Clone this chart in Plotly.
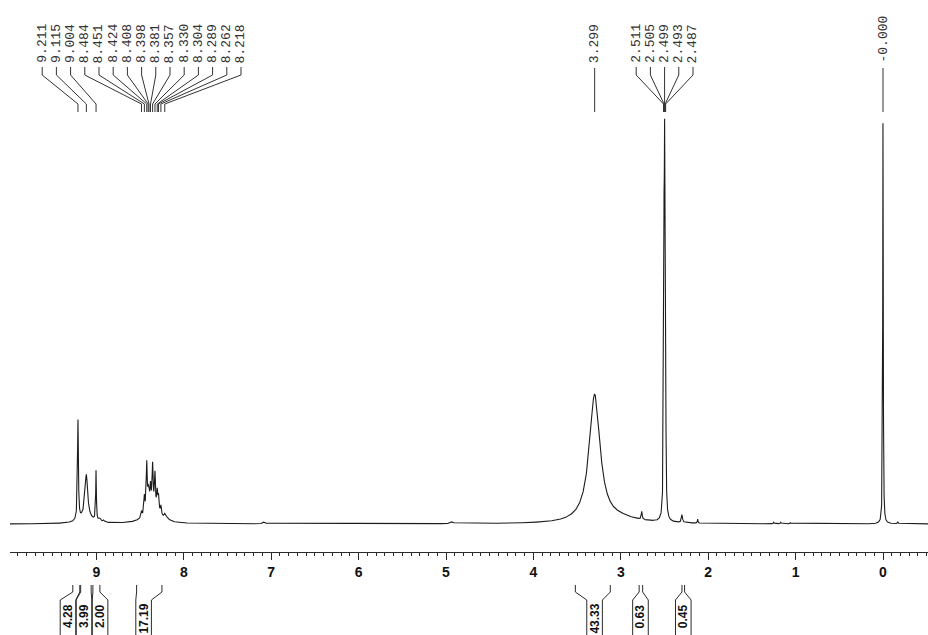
import numpy as np
import plotly.graph_objects as go

# ---------------- data ----------------
# resolved peaks: chemical shift (ppm), height above baseline (arb. units), FWHM (ppm)
peak_ppm = [9.211, 9.115, 9.004, 9.120, 8.960, 8.915,
            8.484, 8.451, 8.424, 8.408, 8.398, 8.381, 8.357, 8.330, 8.304, 8.289, 8.262, 8.218, 8.360, 8.200,
            7.080, 4.930,
            3.299, 3.000,
            2.760, 2.511, 2.505, 2.499, 2.493, 2.487, 2.300, 2.120,
            1.250, 1.170, 1.060, 0.000, -0.170]
peak_height = [100, 42, 50, 7, 3, 2,
               6, 18, 48, 14, 12, 20, 40, 33, 18, 15, 9, 3, 17, 3,
               2, 2,
               128, 4,
               8, 92, 198, 264, 198, 92, 8, 4,
               1.5, 1.5, 1, 404, 2]
peak_fwhm = [0.012, 0.035, 0.009, 0.16, 0.03, 0.02,
             0.014, 0.014, 0.013, 0.012, 0.012, 0.014, 0.013, 0.013, 0.014, 0.014, 0.014, 0.016, 0.17, 0.06,
             0.03, 0.04,
             0.15, 0.5,
             0.012, 0.008, 0.008, 0.008, 0.008, 0.008, 0.015, 0.008,
             0.01, 0.01, 0.01, 0.007, 0.01]

# peak-pick labels (top), one list per group
label_groups = [
    [9.211, 9.115, 9.004, 8.484, 8.451, 8.424, 8.408, 8.398, 8.381, 8.357, 8.330, 8.304, 8.289, 8.262, 8.218],
    [3.299],
    [2.511, 2.505, 2.499, 2.493, 2.487],
    [0.000],
]

# integrals (bottom)
integral_values = [4.28, 3.99, 2.00, 17.19, 43.33, 0.63, 0.45]
integral_from = [9.27, 9.18, 9.04, 8.54, 3.52, 2.79, 2.30]
integral_to = [9.19, 9.06, 8.96, 8.25, 3.12, 2.75, 2.27]

tick_values = [0, 1, 2, 3, 4, 5, 6, 7, 8, 9]

# ---------------- layout constants (positions / styles) ----------------
W, H = 928, 635
AXIS_PX = 552          # pixel row of the ppm axis line
PX_PER_PPM = 87.4
X0_PX = 883            # pixel column of 0 ppm
XR = [(X0_PX - 10) / PX_PER_PPM, (X0_PX - W) / PX_PER_PPM]
label_centers = [8.483, 3.299, 2.499, 0.0]     # centre of each spread label group
label_step = 14.2 / PX_PER_PPM                  # label spacing in ppm
integral_box_centers = [9.325, 9.142, 8.958, 8.46, 3.30, 2.775, 2.285]
integral_box_half = 7.8 / PX_PER_PPM
INK = "#2a2a2a"


def yp(px):
    """pixel row -> paper y of the plot area (top 0, bottom AXIS_PX)"""
    return (AXIS_PX - px) / AXIS_PX


# spectrum built from the peak list (Lorentzian line shapes)
x = np.arange(XR[1], XR[0], 0.0008)
y = np.zeros_like(x)
for c, h, w in zip(peak_ppm, peak_height, peak_fwhm):
    g = w / 2
    y += h * g * g / ((x - c) ** 2 + g * g)

fig = go.Figure()
fig.add_trace(go.Scatter(x=x, y=y, mode="lines",
                         line=dict(color="#1c1c1c", width=1.1),
                         hoverinfo="skip", showlegend=False))

shapes = []
annotations = []

# peak labels with connector lines
for grp, cen in zip(label_groups, label_centers):
    n = len(grp)
    for i, v in enumerate(grp):
        lx = cen + (n - 1) / 2 * label_step - i * label_step if n > 1 else cen
        txt = "-0.000" if v == 0 else f"{v:.3f}"
        annotations.append(dict(x=lx, y=yp(65), xref="x", yref="paper", text=txt,
                                textangle=-90, showarrow=False, xanchor="center", yanchor="bottom",
                                font=dict(family="Liberation Mono", size=13, color="#333")))
        if n > 1:
            path = (f"M {lx},{yp(67)} L {lx},{yp(75)} L {v},{yp(104)} L {v},{yp(112)}")
        else:
            path = f"M {lx},{yp(68)} L {lx},{yp(112)}"
        shapes.append(dict(type="path", path=path, xref="x", yref="paper",
                           line=dict(color="#333", width=1)))

# integral brackets and values
for val, a, b, bc in zip(integral_values, integral_from, integral_to, integral_box_centers):
    bl = bc + integral_box_half
    br = bc - integral_box_half
    path = (f"M {a},{yp(585)} L {a},{yp(592)} L {bl},{yp(600)} L {bl},{yp(640)} "
            f"M {b},{yp(585)} L {b},{yp(592)} L {br},{yp(600)} L {br},{yp(640)}")
    shapes.append(dict(type="path", path=path, xref="x", yref="paper",
                       line=dict(color=INK, width=1)))
    annotations.append(dict(x=bc, y=yp(602), xref="x", yref="paper", text=f"{val:.2f}",
                            textangle=-90, showarrow=False, xanchor="center", yanchor="top",
                            font=dict(family="Liberation Sans", size=12, color="#111", weight="bold")))

fig.update_layout(
    width=W, height=H,
    margin=dict(l=10, r=0, t=0, b=H - AXIS_PX),
    paper_bgcolor="white", plot_bgcolor="white",
    shapes=shapes, annotations=annotations,
    xaxis=dict(range=XR, showgrid=False, zeroline=False,
               showline=True, linecolor=INK, linewidth=1,
               ticks="outside", ticklen=7, tickwidth=1, tickcolor=INK,
               tickvals=tick_values, ticktext=[str(t) for t in tick_values],
               minor=dict(dtick=0.1, tick0=0, ticks="outside", ticklen=3, tickcolor=INK, tickwidth=1),
               tickfont=dict(family="Liberation Sans", size=14, color="#111", weight="bold"),
               fixedrange=True),
    yaxis=dict(range=[-(AXIS_PX - 524), 524], visible=False, fixedrange=True),
)

fig.write_html("out.html")
